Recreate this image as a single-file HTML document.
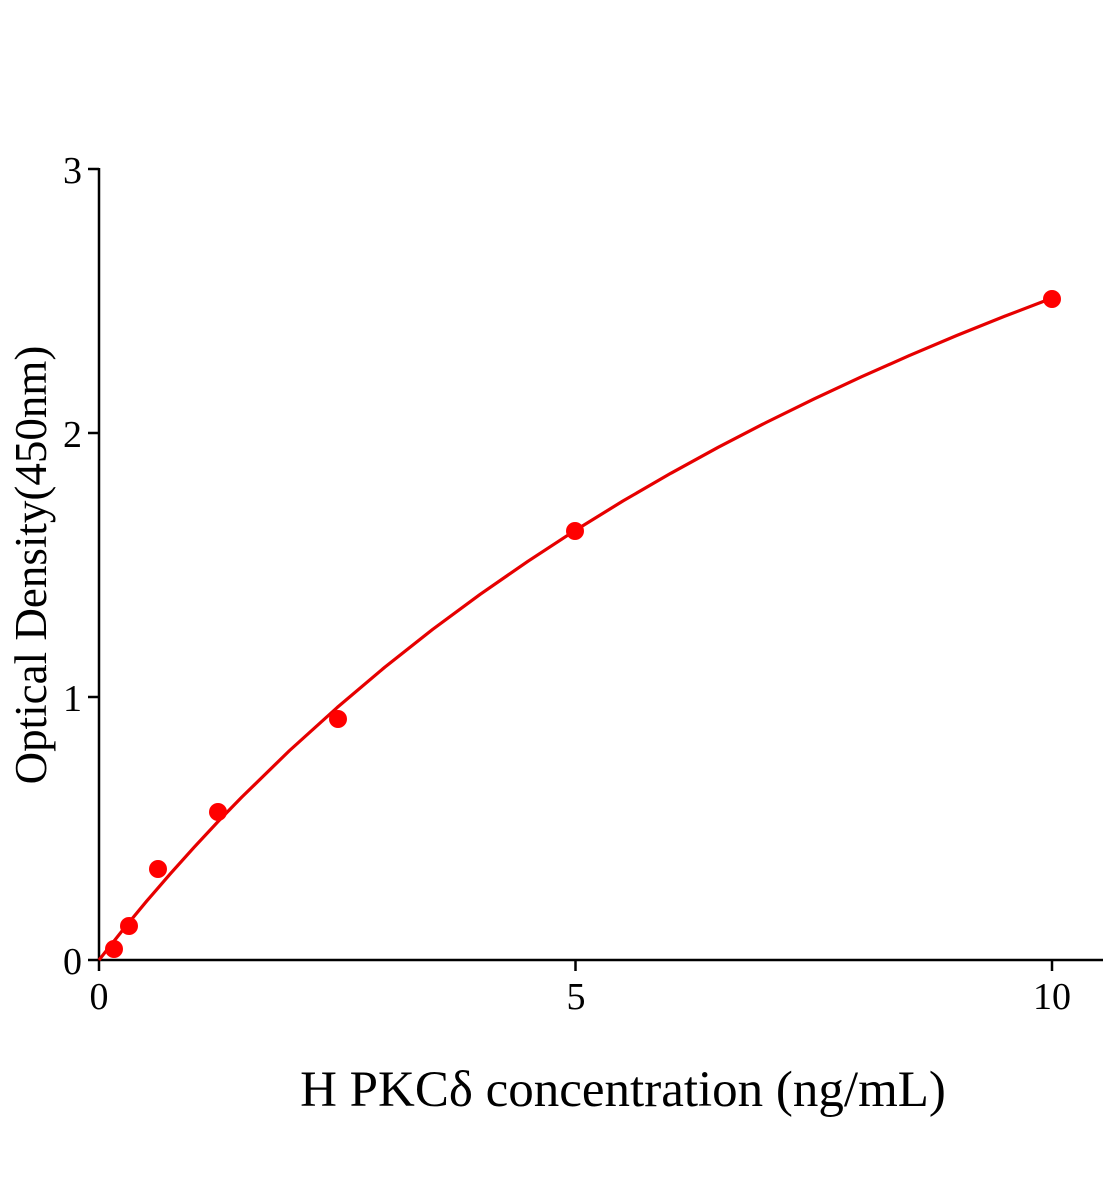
<!DOCTYPE html>
<html><head><meta charset="utf-8"><style>
html,body{margin:0;padding:0;background:#fff;}
svg{display:block;}
text{font-family:"Liberation Serif",serif;fill:#000;}
</style></head><body>
<svg width="1104" height="1200" viewBox="0 0 1104 1200" xmlns="http://www.w3.org/2000/svg">
<g stroke="#000" stroke-width="2.5" fill="none">
<line x1="99" y1="168" x2="99" y2="961"/>
<line x1="98" y1="960" x2="1103" y2="960"/>
<line x1="88" y1="169" x2="99" y2="169"/>
<line x1="88" y1="433" x2="99" y2="433"/>
<line x1="88" y1="697" x2="99" y2="697"/>
<line x1="88" y1="960" x2="99" y2="960"/>
<line x1="99" y1="960" x2="99" y2="971"/>
<line x1="575.5" y1="960" x2="575.5" y2="971"/>
<line x1="1052" y1="960" x2="1052" y2="971"/>
</g>
<g font-size="38" text-anchor="end">
<text x="82" y="183">3</text>
<text x="82" y="447">2</text>
<text x="82" y="711">1</text>
<text x="82" y="974">0</text>
</g>
<g font-size="38" text-anchor="middle">
<text x="99" y="1009">0</text>
<text x="576" y="1009">5</text>
<text x="1052" y="1009">10</text>
</g>
<text x="623" y="1106" font-size="51" text-anchor="middle">H PKCδ concentration (ng/mL)</text>
<text transform="translate(46,565) rotate(-90)" font-size="45" text-anchor="middle">Optical Density(450nm)</text>
<polyline fill="none" stroke="#e60000" stroke-width="3.2" stroke-linejoin="round" points="99,960 122.8,930 146.6,901.2 170.5,873.6 194.3,847.1 218.1,821.5 241.9,797 289.6,750.5 337.3,707.4 384.9,667.1 432.5,629.5 480.2,594.3 527.9,561.3 575.5,530.2 623.1,500.9 670.8,473.3 718.4,447.2 766.1,422.5 813.8,399.1 861.4,376.8 909,355.7 956.7,335.5 1004.3,316.4 1052,298.1"/>
<g fill="#f00">
<circle cx="114" cy="949" r="9"/>
<circle cx="129" cy="926" r="9"/>
<circle cx="158" cy="869" r="9"/>
<circle cx="218" cy="812" r="9"/>
<circle cx="338" cy="719" r="9"/>
<circle cx="575" cy="531" r="9"/>
<circle cx="1052" cy="299" r="9"/>
</g>
</svg>
</body></html>
